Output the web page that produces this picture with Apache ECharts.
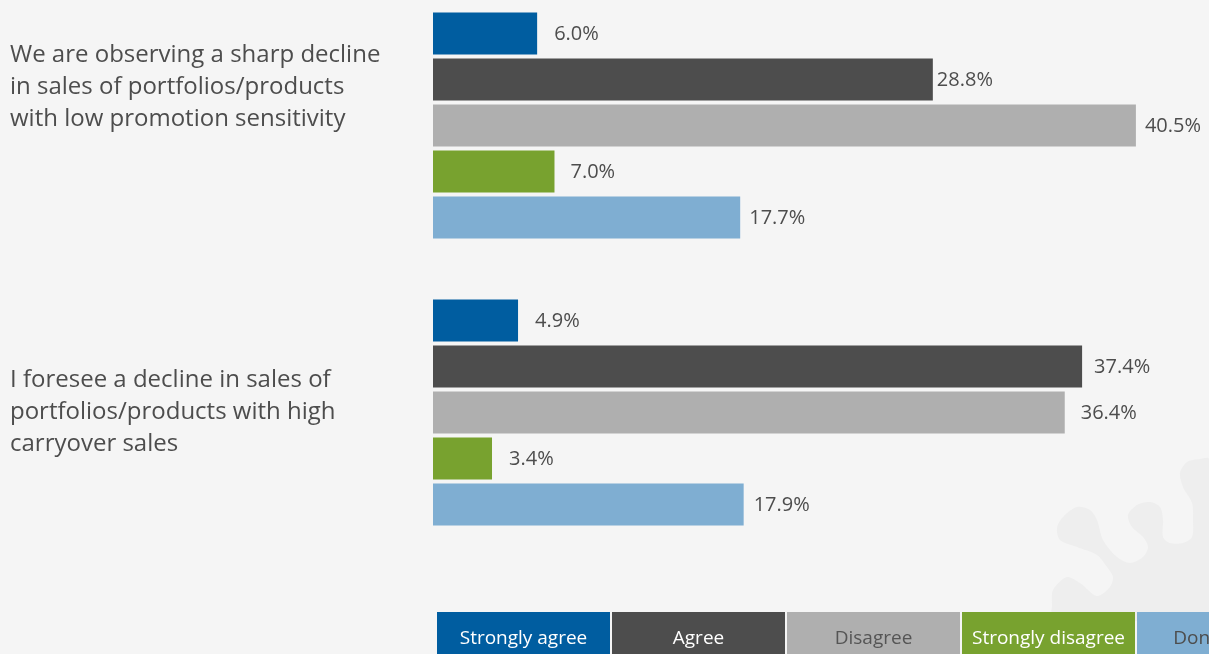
<!DOCTYPE html>
<html>
<head>
<meta charset="utf-8">
<script src="https://cdn.jsdelivr.net/npm/echarts@6/dist/echarts.min.js"></script>
<style>
  html, body { margin: 0; padding: 0; background: #f5f5f5; }
  #chart { width: 1209px; height: 654px; }
</style>
</head>
<body>
<div id="chart"></div>
<script>
// Survey statements (top to bottom)
const statements = [
  'We are observing a sharp decline\nin sales of portfolios/products\nwith low promotion sensitivity',
  'I foresee a decline in sales of\nportfolios/products with high\ncarryover sales'
];

// Response categories
const responses = ['Strongly agree', 'Agree', 'Disagree', 'Strongly disagree', "Don't know"];

// Share of respondents (%) per response, one value per statement
const stronglyAgree    = [6.0, 4.9];
const agree            = [28.8, 37.4];
const disagree         = [40.5, 36.4];
const stronglyDisagree = [7.0, 3.4];
const dontKnow         = [17.7, 17.9];

const values = [stronglyAgree, agree, disagree, stronglyDisagree, dontKnow];

// Styling
const colors = ['#005da0', '#4d4d4d', '#afafaf', '#78a22f', '#7faed2'];
const legendTextColors = ['#ffffff', '#ffffff', '#555555', '#ffffff', '#4d4d4d'];
const labelGap = [
  [17, 17],
  [4, 12],
  [9, 16],
  [16, 17],
  [9, 10]
];
// spacer under each statement label; it lifts the text block by half this height
const statementSpacer = [77, 0];
const FONT = '"Open Sans", Lato, sans-serif';

const chart = echarts.init(document.getElementById('chart'));

const series = responses.map((name, s) => ({
  name,
  type: 'bar',
  barWidth: 42,
  barGap: '9.52%',
  itemStyle: { color: colors[s] },
  data: values[s].map((v, i) => ({
    value: v,
    label: { distance: labelGap[s][i] }
  })),
  label: {
    show: true,
    position: 'right',
    offset: [0, 1],
    color: '#4d4d4d',
    fontFamily: FONT,
    fontSize: 20,
    formatter: p => p.value.toFixed(1) + '%'
  },
  animation: false
}));

// Legend drawn as a row of colored tiles with the label inside
const tileW = 173, tileGap = 2, tileX0 = 437, tileY = 612, tileH = 50;
const legendGraphics = responses.map((name, s) => ({
  type: 'group',
  x: tileX0 + s * (tileW + tileGap),
  y: tileY,
  children: [
    { type: 'rect', shape: { x: 0, y: 0, width: tileW, height: tileH }, style: { fill: colors[s] } },
    {
      type: 'text',
      x: tileW / 2,
      y: 27,
      style: {
        text: name,
        fill: legendTextColors[s],
        font: '19px ' + FONT,
        align: 'center',
        verticalAlign: 'middle'
      }
    }
  ]
}));

// Faint decorative splash in the lower-right corner
const splash = {
  type: 'polygon',
  z: -1,
  silent: true,
  shape: {
    smooth: 0.3,
    points: [
      [1052, 607], [1053, 590], [1067, 577], [1080, 583], [1097, 596], [1110, 587], [1113, 577],
      [1107, 567], [1097, 555], [1077, 547], [1060, 540], [1057, 528], [1063, 517], [1077, 507],
      [1090, 510], [1097, 520], [1103, 540], [1117, 557], [1130, 563], [1143, 557], [1148, 547],
      [1143, 537], [1132, 527], [1128, 515], [1137, 505], [1150, 502], [1160, 507], [1163, 520],
      [1163, 537], [1170, 543], [1183, 543], [1192, 537], [1193, 520], [1192, 503], [1183, 487],
      [1180, 473], [1187, 462], [1200, 459], [1209, 459], [1209, 612], [1052, 612]
    ]
  },
  style: { fill: '#eeeeee' }
};

chart.setOption({
  backgroundColor: '#f5f5f5',
  animation: false,
  grid: { left: 433, top: -18, width: 781, height: 574, containLabel: false, outerBoundsMode: 'none' },
  xAxis: {
    type: 'value',
    min: 0,
    max: 45,
    show: false
  },
  yAxis: {
    type: 'category',
    inverse: true,
    data: statements,
    axisLine: { show: false },
    axisTick: { show: false },
    axisLabel: {
      align: 'left',
      margin: 423,
      color: '#4d4d4d',
      fontFamily: FONT,
      fontSize: 24,
      lineHeight: 32,
      formatter: (v, i) => v.split('\n').map(l => '{t|' + l + '}').join('\n') + '\n{s' + i + '|}',
      rich: {
        t: { fontFamily: FONT, fontSize: 24, lineHeight: 32, color: '#4d4d4d', align: 'left' },
        s0: { height: statementSpacer[0], lineHeight: statementSpacer[0] },
        s1: { height: statementSpacer[1], lineHeight: statementSpacer[1] }
      }
    }
  },
  series,
  graphic: [splash].concat(legendGraphics)
});
</script>
</body>
</html>
